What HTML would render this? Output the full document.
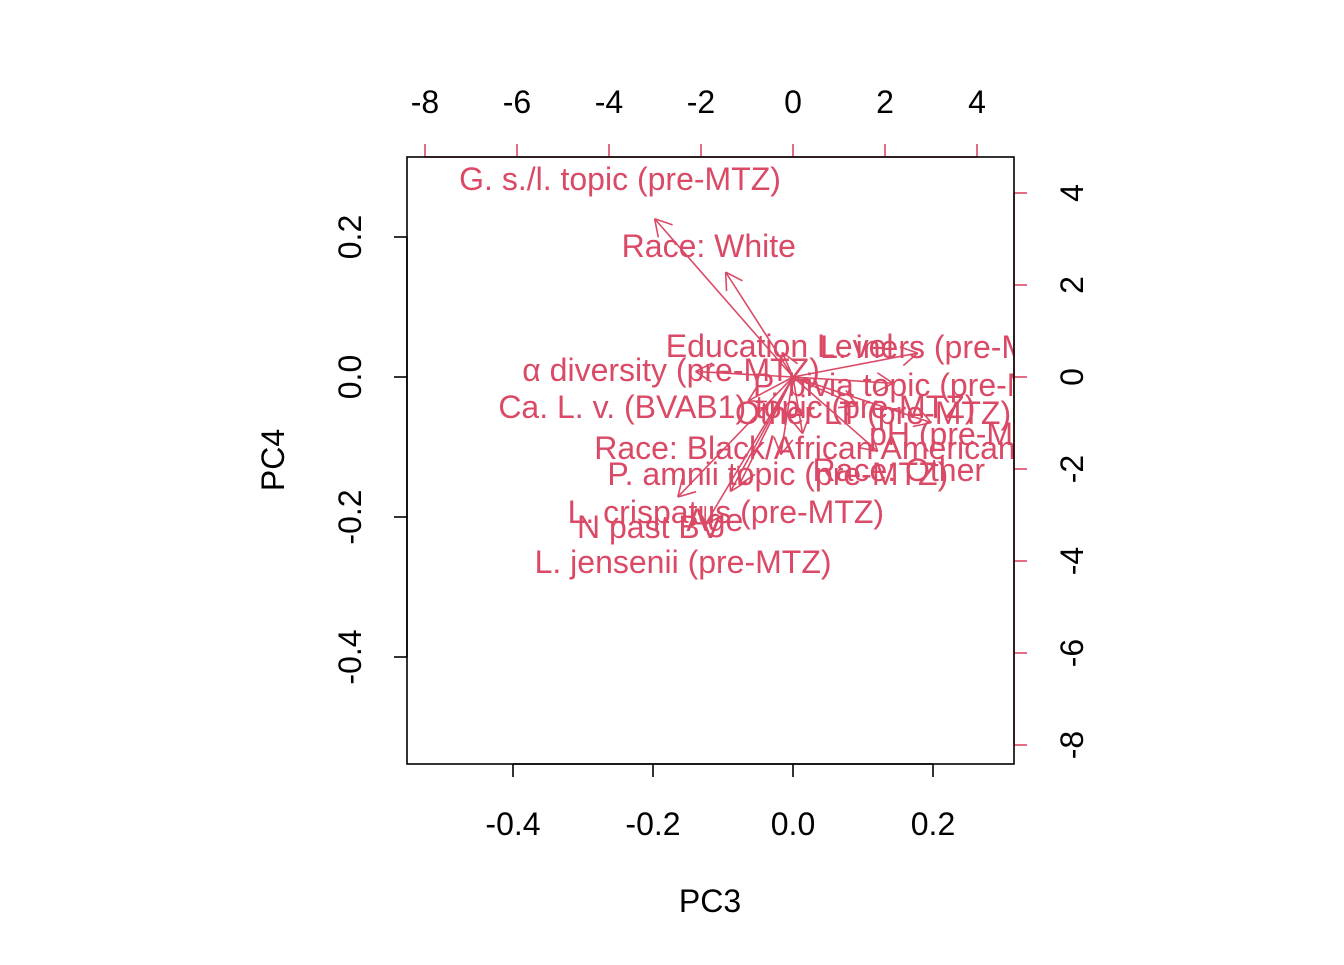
<!DOCTYPE html>
<html><head><meta charset="utf-8"><style>
html,body{margin:0;padding:0;background:#fff;}
svg text{font-family:"Liberation Sans",Arial,sans-serif;}
</style></head><body>
<svg id="chart" width="1344" height="960" viewBox="0 0 1344 960" xmlns="http://www.w3.org/2000/svg">
<defs><clipPath id="plotclip"><rect x="407" y="157" width="607" height="607"/></clipPath></defs>
<rect x="0" y="0" width="1344" height="960" fill="#fff"/>
<g id="axes"></g>
<g id="arrows" clip-path="url(#plotclip)"></g>
<g id="labels" clip-path="url(#plotclip)"></g>
<rect x="407" y="157" width="607" height="607" fill="none" stroke="#000" stroke-width="1.6"/>
<text x="710" y="912" font-size="32" text-anchor="middle">PC3</text>
<text transform="translate(284,460) rotate(-90)" font-size="32" text-anchor="middle">PC4</text>
</svg>
<script>
const varNames = ["G. s./l. topic (pre-MTZ)","Race: White","Education Level","L. iners (pre-MTZ)","α diversity (pre-MTZ)","P. bivia topic (pre-MTZ)","Ca. L. v. (BVAB1) topic (pre-MTZ)","Other LT (pre-MTZ)","pH (pre-MTZ)","Race: Black/African American","Race: Other","P. amnii topic (pre-MTZ)","L. crispatus (pre-MTZ)","N past BV","Age","L. jensenii (pre-MTZ)"];
const loadX = [-3.76,-1.83,-0.29,3.39,-2.65,2.72,-1.22,1.74,3.76,0.26,2.30,-0.33,-1.46,-3.13,-1.70,-2.39];
const loadY = [4.30,2.85,0.67,0.65,0.15,-0.17,-0.65,-0.78,-1.24,-1.54,-2.02,-2.11,-2.93,-3.26,-3.11,-4.02];
const bottomTicks = [-0.4,-0.2,0.0,0.2];
const leftTicks = [-0.4,-0.2,0.0,0.2];
const topTicks = [-8,-6,-4,-2,0,2,4];
const rightTicks = [-8,-6,-4,-2,0,2,4];

const RED = "#DA4A66";
const NS = "http://www.w3.org/2000/svg";
const FS = 32;
const ox = 793, oy = 377;
const sx = v => ox + 700*v, sy = v => oy - 700*v;
const lx = v => ox + 46*v, ly = v => oy - 46*v;
function mk(tag, attrs, parent){const e=document.createElementNS(NS,tag);for(const k in attrs)e.setAttribute(k,attrs[k]);parent.appendChild(e);return e;}
const axes = document.getElementById('axes');
const fmt1 = v => v.toFixed(1);

let ln = mk('line',{x1:sx(bottomTicks[0]),x2:sx(bottomTicks[bottomTicks.length-1]),y1:764,y2:764,stroke:'#000','stroke-width':1.6},axes);


bottomTicks.forEach(t=>{
  const l=mk('line',{x1:sx(t),x2:sx(t),y1:764,y2:777,stroke:'#000','stroke-width':1.6},axes);
  
  
  const tx=mk('text',{x:sx(t),y:835,'font-size':FS,'text-anchor':'middle'},axes);
  tx.textContent=fmt1(t);
  
  
});
ln = mk('line',{x1:407,x2:407,y1:sy(leftTicks[0]),y2:sy(leftTicks[leftTicks.length-1]),stroke:'#000','stroke-width':1.6},axes);


leftTicks.forEach(t=>{
  const l=mk('line',{x1:394,x2:407,y1:sy(t),y2:sy(t),stroke:'#000','stroke-width':1.6},axes);
  
  
  const tx=mk('text',{transform:`translate(361,${sy(t)}) rotate(-90)`,'font-size':FS,'text-anchor':'middle'},axes);
  tx.textContent=fmt1(t);
  
  
});
ln = mk('line',{x1:lx(topTicks[0]),x2:lx(topTicks[topTicks.length-1]),y1:157,y2:157,stroke:RED,'stroke-width':1.6},axes);


topTicks.forEach(t=>{
  const l=mk('line',{x1:lx(t),x2:lx(t),y1:144,y2:157,stroke:RED,'stroke-width':1.6},axes);
  
  
  const tx=mk('text',{x:lx(t),y:113,'font-size':FS,'text-anchor':'middle'},axes);
  tx.textContent=String(t);
  
  
});
ln = mk('line',{x1:1014,x2:1014,y1:ly(rightTicks[0]),y2:ly(rightTicks[rightTicks.length-1]),stroke:RED,'stroke-width':1.6},axes);


rightTicks.forEach(t=>{
  const l=mk('line',{x1:1014,x2:1027,y1:ly(t),y2:ly(t),stroke:RED,'stroke-width':1.6},axes);
  
  
  const tx=mk('text',{transform:`translate(1083,${ly(t)}) rotate(-90)`,'font-size':FS,'text-anchor':'middle'},axes);
  tx.textContent=String(t);
  
  
});

const ag=document.getElementById('arrows'), lg=document.getElementById('labels');
varNames.forEach((n,i)=>{
  const x2=lx(0.8*loadX[i]), y2=ly(0.8*loadY[i]);
  const g=mk('g',{stroke:RED,'stroke-width':1.6,fill:'none'},ag);
  
  
  mk('line',{x1:ox,y1:oy,x2:x2,y2:y2},g);
  const ang=Math.atan2(y2-oy,x2-ox), L=19, a=Math.PI/6;
  mk('line',{x1:x2,y1:y2,x2:x2-L*Math.cos(ang-a),y2:y2-L*Math.sin(ang-a)},g);
  mk('line',{x1:x2,y1:y2,x2:x2-L*Math.cos(ang+a),y2:y2-L*Math.sin(ang+a)},g);
  const tx=mk('text',{x:lx(loadX[i]),y:ly(loadY[i])+11,'font-size':FS,'text-anchor':'middle',fill:RED},lg);
  tx.textContent=n;
  
  
});
</script>
</body></html>
